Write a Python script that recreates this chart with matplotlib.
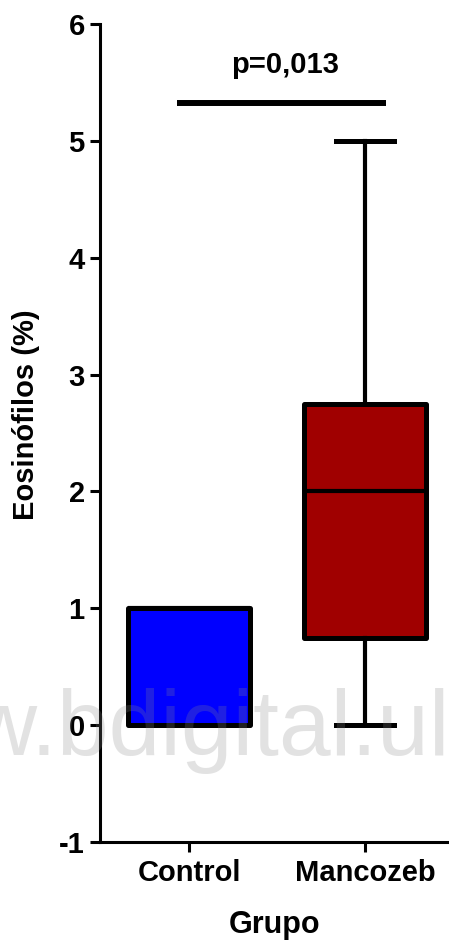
# Box plot - Eosinofilos por grupo

import numpy as np
import matplotlib
matplotlib.use('Agg')
import matplotlib.pyplot as plt

plt.rcParams['font.family'] = ['Liberation Sans', 'DejaVu Sans']
plt.rcParams['axes.unicode_minus'] = False

# Data
grupos = ['Control', 'Mancozeb']
minimos = [0, 0]
q1 = [0, 0.75]
medianas = [1, 2]
q3 = [1, 2.75]
maximos = [1, 5]
colores = ['#0000FF', '#A00000']
p_texto = 'p=0,013'
p_altura = 5.32

stats = []
for i in range(len(grupos)):
    stats.append({'label': grupos[i], 'whislo': minimos[i], 'q1': q1[i], 'med': medianas[i],
                  'q3': q3[i], 'whishi': maximos[i], 'fliers': []})

fig = plt.figure(figsize = (4.49, 9.4), dpi = 100)
ax = fig.add_axes([100/449, 98/940, 349/449, 818/940])

bp = ax.bxp(stats, positions = [1, 2], widths = 0.69, patch_artist = True, showfliers = False,
            boxprops = dict(linewidth = 3.6, edgecolor = 'black'),
            whiskerprops = dict(linewidth = 3.0, color = 'black'),
            capprops = dict(linewidth = 3.6, color = 'black'),
            medianprops = dict(linewidth = 3.0, color = 'black'),
            capwidths = 0.33)
for patch, c in zip(bp['boxes'], colores):
    patch.set_facecolor(c)
    patch.set_joinstyle('round')

# significance bar
ax.plot([0.93, 2.12], [p_altura, p_altura], color = 'black', linewidth = 4.3,
        solid_capstyle = 'butt', clip_on = False)
ax.text(1.545, 5.65, p_texto, ha = 'center', va = 'center', fontsize = 21, fontweight = 'bold')

ax.set_ylim(-1, 6)
ax.set_xlim(0.494, 2.477)
ax.set_yticks(range(-1, 7))
ax.set_xticks([1, 2])
ax.set_xticklabels(grupos)

for s in ['top', 'right']:
    ax.spines[s].set_visible(False)
for s in ['left', 'bottom']:
    ax.spines[s].set_linewidth(2.2)
ax.tick_params(axis = 'both', width = 2.2, length = 7.5, labelsize = 21)
ax.tick_params(axis = 'y', pad = 3.5)
ax.tick_params(axis = 'x', pad = 5)
for lab in ax.get_xticklabels() + ax.get_yticklabels():
    lab.set_fontweight('bold')

ax.set_xlabel('Grupo', fontsize = 22, fontweight = 'bold', labelpad = 16)
ax.set_ylabel('Eosinófilos (%)', fontsize = 21, fontweight = 'bold')
ax.yaxis.set_label_coords(-0.172, 0.522)

# watermark
fig.text(450/449, (940 - 755)/940, 'w.bdigital.ul', ha = 'right', va = 'baseline', fontsize = 67,
         color = '#888888', alpha = 0.24, zorder = 10)

fig.savefig('out.png', dpi = 100)
